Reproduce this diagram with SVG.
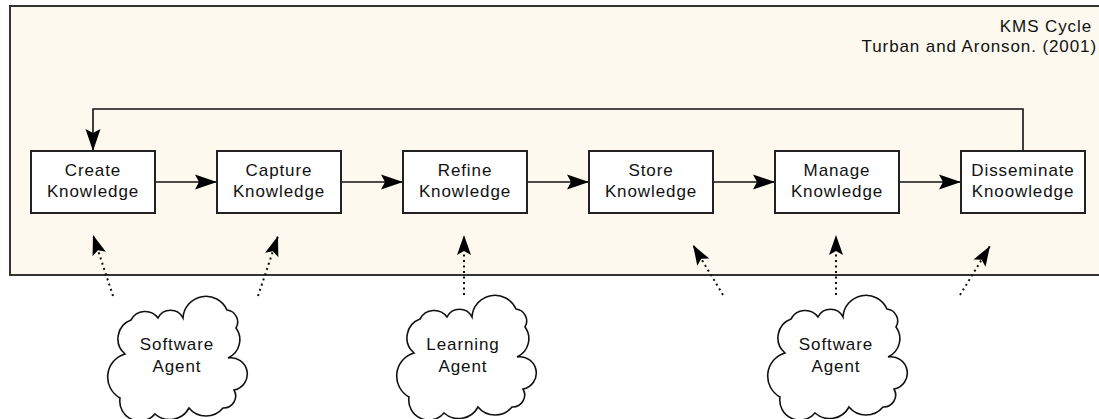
<svg xmlns="http://www.w3.org/2000/svg" width="1099" height="419" viewBox="0 0 1099 419">
<style>
text{font-family:"Liberation Sans",Arial,sans-serif;font-size:17px;letter-spacing:0.9px;fill:#111}
.box{fill:#fff;stroke:#222;stroke-width:2}
.cloud{fill:#fff;stroke:#111;stroke-width:1.6}
.line{fill:none;stroke:#111;stroke-width:1.6}
.dot{fill:none;stroke:#111;stroke-width:2;stroke-dasharray:2 3.5}
.ctr{text-anchor:middle}
</style>
<defs>
<marker id="ah" viewBox="-23 -8 24 16" refX="0" refY="0" markerWidth="24" markerHeight="16" markerUnits="userSpaceOnUse" orient="auto">
<polygon points="0,0 -22,-7.5 -18,0 -22,7.5" fill="#000"/>
</marker>
<marker id="ahs" viewBox="-21 -8 22 16" refX="0" refY="0" markerWidth="22" markerHeight="16" markerUnits="userSpaceOnUse" orient="auto">
<polygon points="0,0 -20,-7 -16,0 -20,7" fill="#000"/>
</marker>
<path id="cl" d="M70,22 A23,23 0 0 1 114,14 A12,12 0 0 1 123,32 A20,20 0 0 1 115,62 A16,16 0 0 1 121,94 A12,12 0 0 1 110,112 A22,22 0 0 1 76,112 A22,22 0 0 1 42,118 A20,20 0 0 1 7,102 A24,24 0 0 1 12,58 A20,20 0 0 1 18,24 A16,16 0 0 1 45,22 A14,14 0 0 1 70,22 Z"/>
</defs>
<rect id="frame" x="10" y="6" width="1090" height="269" fill="#FDF9EE" stroke="#333" stroke-width="2"/>
<g id="title">
<text x="1092" y="32" text-anchor="end">KMS Cycle</text>
<text x="1097" y="52" text-anchor="end">Turban and Aronson. (2001)</text>
</g>
<g id="connectors">
<path class="line" d="M1023,151 V109 H93 V151" marker-end="url(#ah)"/>
<line class="line" x1="155" y1="182" x2="217" y2="182" marker-end="url(#ah)"/>
<line class="line" x1="341" y1="182" x2="403" y2="182" marker-end="url(#ah)"/>
<line class="line" x1="527" y1="182" x2="589" y2="182" marker-end="url(#ah)"/>
<line class="line" x1="713" y1="182" x2="775" y2="182" marker-end="url(#ah)"/>
<line class="line" x1="899" y1="182" x2="961" y2="182" marker-end="url(#ah)"/>
<line class="dot" x1="113" y1="296" x2="93" y2="235" marker-end="url(#ahs)"/>
<line class="dot" x1="258" y1="296" x2="278" y2="236" marker-end="url(#ahs)"/>
<line class="dot" x1="464" y1="295" x2="464" y2="235" marker-end="url(#ahs)"/>
<line class="dot" x1="723" y1="295" x2="693" y2="245" marker-end="url(#ahs)"/>
<line class="dot" x1="836" y1="295" x2="836" y2="235" marker-end="url(#ahs)"/>
<line class="dot" x1="960" y1="295" x2="990" y2="246" marker-end="url(#ahs)"/>
</g>
<g id="create"><rect class="box" x="31" y="151" width="124" height="62"/><text class="ctr" x="93" y="176">Create</text><text class="ctr" x="93" y="197">Knowledge</text></g>
<g id="capture"><rect class="box" x="217" y="151" width="124" height="62"/><text class="ctr" x="279" y="176">Capture</text><text class="ctr" x="279" y="197">Knowledge</text></g>
<g id="refine"><rect class="box" x="403" y="151" width="124" height="62"/><text class="ctr" x="465" y="176">Refine</text><text class="ctr" x="465" y="197">Knowledge</text></g>
<g id="store"><rect class="box" x="589" y="151" width="124" height="62"/><text class="ctr" x="651" y="176">Store</text><text class="ctr" x="651" y="197">Knowledge</text></g>
<g id="manage"><rect class="box" x="775" y="151" width="124" height="62"/><text class="ctr" x="837" y="176">Manage</text><text class="ctr" x="837" y="197">Knowledge</text></g>
<g id="disseminate"><rect class="box" x="961" y="151" width="124" height="62"/><text class="ctr" x="1023" y="176">Disseminate</text><text class="ctr" x="1023" y="197">Knoowledge</text></g>
<g id="agent1"><use href="#cl" class="cloud" x="113" y="296"/><text class="ctr" x="177" y="350">Software</text><text class="ctr" x="177" y="372">Agent</text></g>
<g id="agent2"><use href="#cl" class="cloud" x="402" y="295"/><text class="ctr" x="463" y="350">Learning</text><text class="ctr" x="463" y="372">Agent</text></g>
<g id="agent3"><use href="#cl" class="cloud" x="773" y="295"/><text class="ctr" x="836" y="350">Software</text><text class="ctr" x="836" y="372">Agent</text></g>
</svg>
